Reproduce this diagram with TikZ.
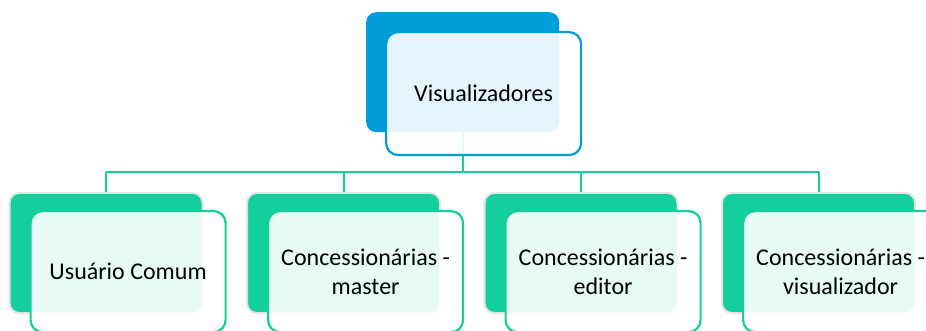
\documentclass[tikz,border=0pt]{standalone}
\usepackage{fontspec}
\setmainfont{Carlito}
\definecolor{vblue}{RGB}{0,158,217}
\definecolor{vgreen}{RGB}{18,207,155}
\definecolor{vgray}{RGB}{226,226,226}
\begin{document}
\begin{tikzpicture}[x=1pt,y=-1pt,
  backbox/.style={anchor=north west,minimum width=193pt,minimum height=120pt,inner sep=0pt,rounded corners=10pt},
  topback/.style={backbox,fill=vblue},
  subback/.style={backbox,fill=vgreen,draw=vgray,line width=2pt},
  frontbox/.style={anchor=north west,minimum width=195pt,minimum height=121pt,inner sep=0pt,rounded corners=12pt,
     fill=white,fill opacity=0.9,text opacity=1,line width=2.2pt,font=\fontsize{24}{29}\selectfont,align=center},
  conn/.style={draw=vgreen,line width=2pt}]
\useasboundingbox (0,0) rectangle (926,331);
% top
\node[topback] (tb) at (366,12) {};
% subordinate backs
\node[subback] (b1) at (8.5,192) {};
\node[subback] (b2) at (246,192) {};
\node[subback] (b3) at (483.5,192) {};
\node[subback] (b4) at (721,192) {};
\coordinate (bus) at (0,172);
% connectors
\draw[conn] (tb.south) -- (tb.south |- bus);
\draw[conn] (b1.north |- bus) -- (b4.north |- bus);
\foreach \b in {b1,b2,b3,b4}{\draw[conn] (\b.north |- bus) -- (\b.north);}
% fronts
\node[frontbox,draw=vblue,minimum height=123pt] (tf) at (385,31) {\hspace*{0pt}Visualizadores};
\node[frontbox,draw=vgreen] (f1) at (29.5,210) {Usuário Comum};
\node[frontbox,draw=vgreen] (f2) at (267,210) {Concessionárias -\\master};
\node[frontbox,draw=vgreen] (f3) at (504.5,210) {Concessionárias -\\editor};
\node[frontbox,draw=vgreen] (f4) at (742,210) {Concessionárias -\\visualizador};
\end{tikzpicture}
\end{document}
